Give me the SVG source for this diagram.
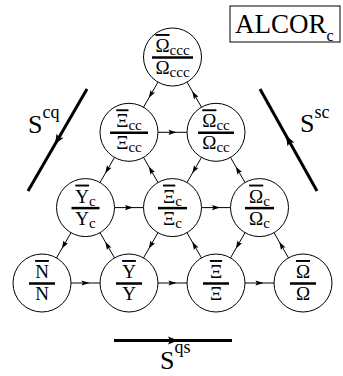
<svg xmlns="http://www.w3.org/2000/svg" width="343" height="376" viewBox="0 0 343 376">
<defs>
<style>
.node circle{fill:#fff;stroke:#000;stroke-width:1}
.bar{stroke:#000;stroke-width:2.5}
text{font-family:"Liberation Serif","Times New Roman",serif;fill:#000}
.lab{font-size:19px;text-anchor:middle}
.ov{text-decoration:overline}
.sub{font-size:15px}
.edge{fill:none;stroke:#000;stroke-width:1;marker-mid:url(#ah)}
.big{fill:none;stroke:#000;stroke-width:3;marker-mid:url(#bh)}
.S{font-size:26px}
.sup{font-size:18px}
</style>
<marker id="ah" markerUnits="userSpaceOnUse" markerWidth="12" markerHeight="12" viewBox="-6 -6 12 12" refX="0" refY="0" orient="auto">
<path d="M-4,-2.6 L4,0 L-4,2.6 L-2.6,0 Z" fill="#000"/>
</marker>
<marker id="bh" markerUnits="userSpaceOnUse" markerWidth="16" markerHeight="16" viewBox="-8 -8 16 16" refX="0" refY="0" orient="auto">
<path d="M-5,-4 L5,0 L-5,4 L-3,0 Z" fill="#000"/>
</marker>
</defs>
<rect x="230" y="6" width="110" height="36" fill="none" stroke="#000" stroke-width="1"/>
<text x="235" y="33" font-size="27">ALCOR<tspan font-size="16" dy="8">c</tspan></text>
<g id="connectors">
<path class="edge" d="M158,82.1 L150.75,94.65 L143.5,107.2"/>
<path class="edge" d="M201.5,107.2 L194.25,94.65 L187,82.1"/>
<path class="edge" d="M158,132.3 L172.5,132.3 L187,132.3"/>
<path class="edge" d="M114.5,157.4 L107.25,169.95 L100,182.5"/>
<path class="edge" d="M158,182.5 L150.75,169.95 L143.5,157.4"/>
<path class="edge" d="M201.5,157.4 L194.25,169.95 L187,182.5"/>
<path class="edge" d="M245,182.5 L237.75,169.95 L230.5,157.4"/>
<path class="edge" d="M114.5,207.6 L129,207.6 L143.5,207.6"/>
<path class="edge" d="M201.5,207.6 L216,207.6 L230.5,207.6"/>
<path class="edge" d="M71,232.7 L63.75,245.3 L56.5,257.9"/>
<path class="edge" d="M114.5,257.9 L107.25,245.3 L100,232.7"/>
<path class="edge" d="M158,232.7 L150.75,245.3 L143.5,257.9"/>
<path class="edge" d="M201.5,257.9 L194.25,245.3 L187,232.7"/>
<path class="edge" d="M245,232.7 L237.75,245.3 L230.5,257.9"/>
<path class="edge" d="M288.5,257.9 L281.25,245.3 L274,232.7"/>
<path class="edge" d="M71,283 L85.5,283 L100,283"/>
<path class="edge" d="M158,283 L172.5,283 L187,283"/>
<path class="edge" d="M245,283 L259.5,283 L274,283"/>
<path class="big" d="M87,89 L57.5,140 L28,191"/>
<path class="big" d="M317,191 L288.5,140 L260,89"/>
<path class="big" d="M114,340.5 L173,340.5 L232,340.5"/>
</g>
<g id="Occc" class="node"><circle cx="172.5" cy="57" r="29"/><text class="lab" x="172.5" y="52"><tspan class="ov">Ω</tspan><tspan class="sub" dy="3">ccc</tspan></text><line class="bar" x1="152" y1="57.5" x2="193" y2="57.5"/><text class="lab" x="172.5" y="74">Ω<tspan class="sub" dy="3">ccc</tspan></text></g>
<g id="Xicc" class="node"><circle cx="129" cy="132.3" r="29"/><text class="lab" x="129" y="127.3"><tspan class="ov">Ξ</tspan><tspan class="sub" dy="3">cc</tspan></text><line class="bar" x1="110" y1="132.8" x2="148" y2="132.8"/><text class="lab" x="129" y="149.3">Ξ<tspan class="sub" dy="3">cc</tspan></text></g>
<g id="Occ" class="node"><circle cx="216" cy="132.3" r="29"/><text class="lab" x="216" y="127.3"><tspan class="ov">Ω</tspan><tspan class="sub" dy="3">cc</tspan></text><line class="bar" x1="198" y1="132.8" x2="234" y2="132.8"/><text class="lab" x="216" y="149.3">Ω<tspan class="sub" dy="3">cc</tspan></text></g>
<g id="Yc" class="node"><circle cx="85.5" cy="207.6" r="29"/><text class="lab" x="85.5" y="202.6"><tspan class="ov">Y</tspan><tspan class="sub" dy="3">c</tspan></text><line class="bar" x1="71.5" y1="208.1" x2="99.5" y2="208.1"/><text class="lab" x="85.5" y="224.6">Y<tspan class="sub" dy="3">c</tspan></text></g>
<g id="Xic" class="node"><circle cx="172.5" cy="207.6" r="29"/><text class="lab" x="172.5" y="202.6"><tspan class="ov">Ξ</tspan><tspan class="sub" dy="3">c</tspan></text><line class="bar" x1="158" y1="208.1" x2="187" y2="208.1"/><text class="lab" x="172.5" y="224.6">Ξ<tspan class="sub" dy="3">c</tspan></text></g>
<g id="Oc" class="node"><circle cx="259.5" cy="207.6" r="29"/><text class="lab" x="259.5" y="202.6"><tspan class="ov">Ω</tspan><tspan class="sub" dy="3">c</tspan></text><line class="bar" x1="245" y1="208.1" x2="274" y2="208.1"/><text class="lab" x="259.5" y="224.6">Ω<tspan class="sub" dy="3">c</tspan></text></g>
<g id="N" class="node"><circle cx="42" cy="283" r="29"/><text class="lab" x="42" y="278"><tspan class="ov">N</tspan></text><line class="bar" x1="29" y1="283.5" x2="55" y2="283.5"/><text class="lab" x="42" y="300">N</text></g>
<g id="Y" class="node"><circle cx="129" cy="283" r="29"/><text class="lab" x="129" y="278"><tspan class="ov">Y</tspan></text><line class="bar" x1="116" y1="283.5" x2="142" y2="283.5"/><text class="lab" x="129" y="300">Y</text></g>
<g id="Xi" class="node"><circle cx="216" cy="283" r="29"/><text class="lab" x="216" y="278"><tspan class="ov">Ξ</tspan></text><line class="bar" x1="203" y1="283.5" x2="229" y2="283.5"/><text class="lab" x="216" y="300">Ξ</text></g>
<g id="O" class="node"><circle cx="303" cy="283" r="29"/><text class="lab" x="303" y="278"><tspan class="ov">Ω</tspan></text><line class="bar" x1="290" y1="283.5" x2="316" y2="283.5"/><text class="lab" x="303" y="300">Ω</text></g>
<text class="S" x="28" y="133">S<tspan class="sup" dy="-15">cq</tspan></text>
<text class="S" x="300" y="132">S<tspan class="sup" dy="-14">sc</tspan></text>
<text class="S" x="160" y="369">S<tspan class="sup" dy="-16">qs</tspan></text>
</svg>
